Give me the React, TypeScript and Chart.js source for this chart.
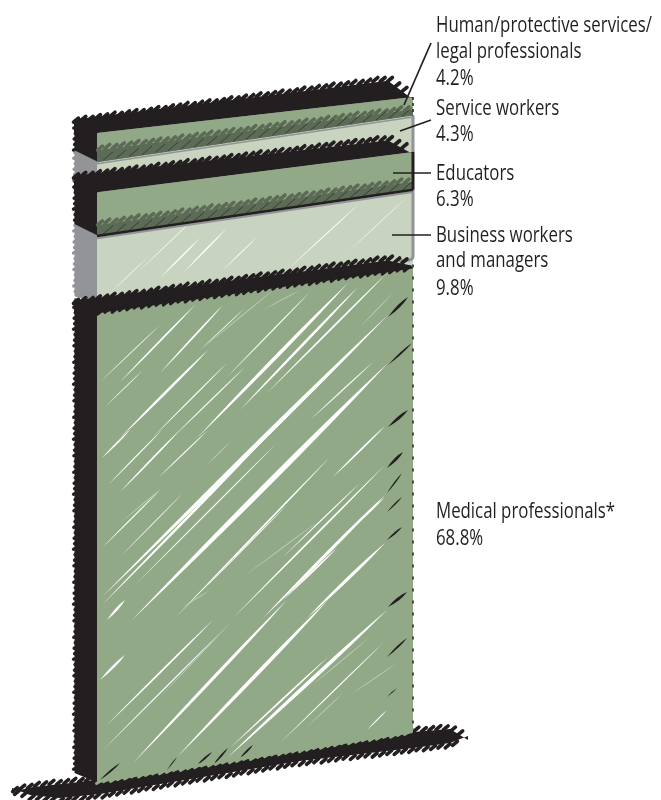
import { useEffect, useRef } from "react";
import { Chart, registerables } from "chart.js";

Chart.register(...registerables);

// Share of workers by occupation group, bottom of the column first.
const categories = [
  "Medical professionals*",
  "Business workers and managers",
  "Educators",
  "Service workers",
  "Human/protective services/legal professionals",
];
const shares = [68.8, 9.8, 6.3, 4.3, 4.2];
const labelLines = [
  ["Medical professionals*", "68.8%"],
  ["Business workers", "and managers", "9.8%"],
  ["Educators", "6.3%"],
  ["Service workers", "4.3%"],
  ["Human/protective services/", "legal professionals", "4.2%"],
];
const labelBaselines = [518, 242, 180, 115, 32];
const lineSteps = [
  [27],
  [25, 28],
  [26],
  [26],
  [26, 27],
];

const GREEN = "#92a987";
const PALE = "#c8d3c0";
const SHADE = "#5c6b55";
const GREY = "#929497";
const INK = "#231f20";

// Column perspective: how far the right edge rises at the foot and the head of the stack.
const RISE_BOTTOM = -50;
const RISE_TOP = -36;
const RIGHT_NUDGE = [0, 0, -8, -3, -10, 0];
const SIDE_DEPTH = 24;

// Pencil strokes, in a 316 x 650 box over the front of the column: x1, y1, x2, y2, width.
const MEDICAL_GAPS = [
  [100, 305, 251, 150, 3.6], [5, 464, 291, 182, 4.4], [35, 487, 291, 230, 5.4], [5, 325, 33, 297, 1.8],
  [11, 352, 65, 297, 1.2], [23, 359, 83, 297, 1.8], [61, 345, 111, 297, 1.2], [5, 415, 63, 357, 1.2],
  [23, 424, 86, 360, 0.8], [5, 472, 176, 297, 2.6], [38, 452, 180, 310, 1.2], [136, 485, 288, 332, 1.8],
  [166, 485, 288, 362, 3.2], [210, 485, 288, 410, 3.2], [250, 400, 288, 364, 1.8], [186, 467, 240, 415, 1.8],
  [103, 460, 190, 372, 1], [186, 424, 263, 350, 1.2], [78, 485, 233, 324, 1.8], [236, 344, 288, 293, 1.8],
  [3, 249, 63, 192, 0.8], [23, 249, 98, 172, 1.8], [63, 240, 126, 172, 1.8], [23, 305, 111, 217, 2.6],
  [55, 305, 130, 230, 1.2], [75, 305, 148, 234, 1.2], [103, 217, 148, 175, 0.8], [130, 244, 213, 159, 1.2],
  [143, 277, 261, 154, 2.6], [170, 260, 290, 140, 1.8], [213, 287, 276, 229, 1.2], [8, 274, 46, 237, 0.8],
  [3, 547, 28, 522, 2.6], [10, 592, 116, 487, 1.8], [6, 617, 123, 500, 1.2], [36, 630, 190, 467, 3.2],
  [80, 624, 231, 467, 3.8], [130, 625, 290, 477, 3.8], [133, 615, 231, 524, 1.8], [183, 610, 286, 510, 1.2],
  [270, 597, 290, 577, 1.2], [10, 487, 28, 467, 2.6],
];
const MEDICAL_FAINT = [
  [110, 332, 133, 309, 1], [23, 390, 66, 354, 1], [86, 474, 113, 457, 1], [146, 444, 223, 387, 1],
  [103, 217, 180, 154, 1], [166, 177, 203, 157, 1], [263, 194, 296, 160, 1], [63, 564, 136, 487, 1],
  [213, 554, 273, 504, 1], [210, 594, 246, 560, 1], [253, 562, 300, 530, 1],
];
const MEDICAL_DARKS = [
  [291, 184, 311, 164, 3], [291, 232, 315, 210, 2], [291, 294, 311, 277, 3], [290, 335, 306, 319, 3],
  [290, 360, 305, 340, 1.5], [290, 379, 305, 364, 1.5], [290, 407, 305, 394, 2], [291, 474, 310, 459, 3],
  [290, 524, 310, 505, 2], [290, 564, 300, 555, 1], [3, 647, 23, 630, 2], [100, 632, 115, 619, 2],
  [116, 632, 131, 615, 2], [143, 625, 156, 612, 2], [70, 637, 80, 624, 1],
];
const BUSINESS_GAPS = [
  [86, 140, 130, 95, 1.5], [13, 160, 50, 125, 0.7], [63, 145, 103, 105, 1.5], [126, 137, 160, 104, 1],
  [190, 137, 263, 70, 1], [40, 140, 103, 80, 0.7], [250, 120, 310, 64, 0.6],
];

// Ground line outline, as offsets from the chart area's lower-left corner.
const GROUND_UPPER = [[-85, 7], [-64, 2], [-17, -3], [316, -53], [353, -56], [371, -45]];
const GROUND_LOWER = [[-85, 7], [-67, 14], [-37, 17], [3, 13], [203, -20], [316, -33], [353, -38], [371, -45]];

// Leader lines, as offsets from the chart area's top-right corner: x1, y1, x2, y2.
const LEADERS = [
  [-9, -28, 18, -90],
  [-13, -2, 18, -13],
  [-20, 40, 18, 40],
  [-21, 102, 18, 102],
];
const LABEL_OFFSET = 23;
const LONGEST_LABEL = "Human/protective services/";
const LONGEST_LABEL_WIDTH = 216;

const wobble = [0.6, -0.7, 0.9, -0.3, 0.2, -1, 0.7, 0.1, -0.5, 1];

type Ctx = CanvasRenderingContext2D;

const follow = (pts: number[][], x: number) => {
  for (let i = 1; i < pts.length; i++) {
    if (x <= pts[i][0]) {
      const [x0, y0] = pts[i - 1];
      const [x1, y1] = pts[i];
      return y0 + ((y1 - y0) * (x - x0)) / (x1 - x0);
    }
  }
  return pts[pts.length - 1][1];
};

const sketchColumn = {
  id: "sketchColumn",
  beforeDatasetsDraw(chart: any) {
    const ctx: Ctx = chart.ctx;
    const { left, right, top, bottom } = chart.chartArea;
    const metas = chart.data.datasets.map((_: unknown, i: number) => chart.getDatasetMeta(i).data[0]);
    const levels: number[] = [metas[0].base, ...metas.map((m: any) => m.y)];

    const edge = (i: number, x: number) => {
      const u = (x - left) / (right - left);
      const py = levels[i];
      const t = (bottom - py) / (bottom - top);
      const bR = bottom + RISE_BOTTOM;
      const tR = top + RISE_TOP;
      return py + u * (bR + t * (tR - bR) + RIGHT_NUDGE[i] - py);
    };

    const poly = (pts: number[][], fill: string) => {
      ctx.beginPath();
      pts.forEach((p, i) => (i ? ctx.lineTo(p[0], p[1]) : ctx.moveTo(p[0], p[1])));
      ctx.closePath();
      ctx.fillStyle = fill;
      ctx.fill();
    };

    const front = (lo: number, hi: number) => [
      [left, edge(hi, left)],
      [right, edge(hi, right)],
      [right, edge(lo, right)],
      [left, edge(lo, left)],
    ];

    const lens = (s: number[], fill: string) => {
      const sx = (right - left) / 316;
      const sy = (bottom - top) / 650;
      const ax = left + s[0] * sx;
      const ay = top + s[1] * sy;
      const bx = left + s[2] * sx;
      const by = top + s[3] * sy;
      const len = Math.hypot(bx - ax, by - ay);
      const nx = ((by - ay) / len) * s[4];
      const ny = (-(bx - ax) / len) * s[4];
      const mx = ax + (bx - ax) * 0.6;
      const my = ay + (by - ay) * 0.6;
      ctx.beginPath();
      ctx.moveTo(ax, ay);
      ctx.quadraticCurveTo(mx + nx, my + ny, bx, by);
      ctx.quadraticCurveTo(mx - nx, my - ny, ax, ay);
      ctx.fillStyle = fill;
      ctx.fill();
    };

    const strokes = (lo: number, hi: number, sets: [number[][], string][]) => {
      ctx.save();
      ctx.beginPath();
      front(lo, hi).forEach((p, i) => (i ? ctx.lineTo(p[0], p[1]) : ctx.moveTo(p[0], p[1])));
      ctx.closePath();
      ctx.clip();
      sets.forEach(([list, colour]) => list.forEach((s) => lens(s, colour)));
      ctx.restore();
    };

    // Rough outline: short round strokes along a run of the edge function.
    const scallops = (
      from: number,
      to: number,
      yAt: (x: number) => number,
      colour: string,
      width: number,
      pitch = 7.3,
      lean = 2.4,
      rise = 4,
    ) => {
      ctx.save();
      ctx.strokeStyle = colour;
      ctx.lineWidth = width;
      ctx.lineCap = "round";
      let n = 0;
      for (let x = from; x <= to; x += pitch) {
        const y = yAt(x) + wobble[n++ % wobble.length] * 0.6;
        ctx.beginPath();
        ctx.moveTo(x - lean, y + rise / 2);
        ctx.lineTo(x + lean, y - rise / 2);
        ctx.stroke();
      }
      ctx.restore();
    };

    const sideFace = (lo: number, hi: number, colour: string, liftTop: number, liftFoot: number) => {
      const back = left - SIDE_DEPTH;
      const yb = edge(lo, left);
      const yt = edge(hi, left);
      poly(
        [
          [left + 1.5, yt],
          [back + 1.5, yt - liftTop],
          [back + 1.5, yb - liftFoot],
          [left + 1.5, yb],
        ],
        colour,
      );
      ctx.save();
      ctx.strokeStyle = colour;
      ctx.lineWidth = 3.4;
      ctx.lineCap = "round";
      let n = 0;
      for (let y = yt - liftTop + 2; y < yb - liftFoot - 1; y += 5.5) {
        ctx.beginPath();
        ctx.moveTo(back + 4, y);
        ctx.lineTo(back + 1.4 + wobble[n++ % wobble.length] * 0.9, y + 1.5);
        ctx.stroke();
      }
      ctx.restore();
    };

    // Dark top of a block: runs back from its upper edge and tapers at the right.
    const topBand = (i: number, upL: number, upR: number, downL: number, downR: number, roughFoot = false) => {
      const back = left - SIDE_DEPTH;
      const nearR = right - 25;
      const upper = (x: number) => edge(i, x) - (upL + ((upR - upL) * (x - left)) / (right - left));
      const upperRun = (x: number) =>
        x > nearR ? upper(nearR) + ((x - nearR) / 25) * (edge(i, right) - upper(nearR) - 1) : upper(x);
      const lower = (x: number) => edge(i, x) + downL + ((downR - downL) * (x - left)) / (right - left);
      poly(
        [
          [back + 1, upper(left) + 2.5],
          [nearR, upper(nearR) + 2.5],
          [right - 2, edge(i, right) + 1],
          [right, lower(right)],
          [left, lower(left)],
          [back + 1, lower(left)],
        ],
        INK,
      );
      scallops(back + 3, right - 3, upperRun, INK, 3.8);
      if (roughFoot) scallops(left + 3, right - 3, (x) => lower(x) - 1, INK, 3.2);
    };

    // Shadow strip along the foot of a green block.
    const shadeBand = (lo: number, hL: number, hR: number) => {
      const yTop = (x: number) => edge(lo, x) - (hL + ((hR - hL) * (x - left)) / (right - left));
      poly(
        [
          [left, yTop(left) + 2],
          [right, yTop(right) + 2],
          [right, edge(lo, right)],
          [left, edge(lo, left)],
        ],
        SHADE,
      );
      scallops(left + 3, right - 6, yTop, SHADE, 3.6);
      ctx.save();
      ctx.strokeStyle = INK;
      ctx.lineWidth = 0.6;
      for (let x = left + 6; x < right - 4; x += 13) {
        ctx.beginPath();
        ctx.moveTo(x, edge(lo, x) - 1);
        ctx.lineTo(x + 10, edge(lo, x + 10) - 8);
        ctx.stroke();
      }
      ctx.restore();
    };

    const alongEdge = (i: number, colour: string, width: number, shift: number) => {
      ctx.beginPath();
      ctx.moveTo(left, edge(i, left) + shift);
      ctx.lineTo(right, edge(i, right) + shift);
      ctx.strokeStyle = colour;
      ctx.lineWidth = width;
      ctx.stroke();
    };

    const rightEdge = (lo: number, hi: number, colour: string, width: number, dash: number[] = []) => {
      ctx.save();
      ctx.setLineDash(dash);
      ctx.beginPath();
      ctx.moveTo(right, edge(hi, right));
      ctx.lineTo(right, edge(lo, right));
      ctx.strokeStyle = colour;
      ctx.lineWidth = width;
      ctx.stroke();
      ctx.restore();
    };

    // Ground line under the column, tapering at both ends.
    const gUp = (x: number) => bottom + follow(GROUND_UPPER, x - left);
    const gLow = (x: number) => bottom + follow(GROUND_LOWER, x - left);
    poly(
      [
        ...GROUND_UPPER.map(([x, y]) => [left + x, bottom + y + 2]),
        ...GROUND_LOWER.slice().reverse().map(([x, y]) => [left + x, bottom + y - 2]),
      ],
      INK,
    );
    scallops(left - 82, left + 366, gUp, INK, 3.6);
    scallops(left - 80, left + 364, gLow, INK, 3.6);

    // Service workers
    sideFace(3, 4, GREY, 13, 12);
    poly(front(3, 4), PALE);
    rightEdge(3, 4, GREY, 3);

    // Business workers and managers
    sideFace(1, 2, GREY, 14, 8);
    poly(front(1, 2), PALE);
    strokes(1, 2, [[BUSINESS_GAPS, "#ffffff"]]);
    ctx.save();
    ctx.beginPath();
    ctx.moveTo(right, edge(2, right));
    ctx.lineTo(right, edge(1, right) - 8);
    ctx.quadraticCurveTo(right, edge(1, right) - 3, right - 14, edge(1, right) - 4);
    ctx.strokeStyle = GREY;
    ctx.lineWidth = 3;
    ctx.stroke();
    ctx.restore();

    // Medical professionals
    sideFace(0, 1, INK, 6, 10);
    poly(front(0, 1), GREEN);
    strokes(0, 1, [
      [MEDICAL_FAINT, "rgba(255,255,255,0.4)"],
      [MEDICAL_GAPS, "#ffffff"],
      [MEDICAL_DARKS, INK],
    ]);
    rightEdge(0, 1, INK, 1.5, [3, 9]);
    scallops(left + 2, right - 3, (x) => edge(0, x) - 1, GREEN, 3, 7, 2.5, 3);
    topBand(1, 6, 10, 9, 4, true);

    // Educators
    sideFace(2, 3, INK, 14, 12);
    poly(front(2, 3), GREEN);
    shadeBand(2, 13, 10);
    alongEdge(2, GREY, 2, 2.2);
    alongEdge(2, INK, 2.5, 0);
    rightEdge(2, 3, INK, 3);
    topBand(3, 19, 17, 0, 0);

    // Human/protective services/legal professionals
    sideFace(4, 5, INK, 14, 12);
    poly(front(4, 5), GREEN);
    shadeBand(4, 14, 8);
    alongEdge(4, GREY, 1.5, 1.5);
    rightEdge(4, 5, INK, 1.5, [3, 3]);
    topBand(5, 16, 22, 0, 0);

    return false;
  },
  afterDraw(chart: any) {
    const ctx: Ctx = chart.ctx;
    const { right, top } = chart.chartArea;

    ctx.save();
    ctx.strokeStyle = INK;
    ctx.lineWidth = 1.7;
    LEADERS.forEach(([x1, y1, x2, y2]) => {
      ctx.beginPath();
      ctx.moveTo(right + x1, top + y1);
      ctx.lineTo(right + x2, top + y2);
      ctx.stroke();
    });

    // The labels are set in a condensed width.
    ctx.fillStyle = INK;
    ctx.font = '21px "Open Sans", "Noto Sans", sans-serif';
    ctx.textBaseline = "alphabetic";
    ctx.textAlign = "left";
    const squeeze = LONGEST_LABEL_WIDTH / ctx.measureText(LONGEST_LABEL).width;
    labelLines.forEach((lines, i) => {
      let y = labelBaselines[i];
      lines.forEach((line, j) => {
        ctx.save();
        ctx.translate(right + LABEL_OFFSET, y);
        ctx.scale(squeeze, 1);
        ctx.fillText(line, 0, 0);
        ctx.restore();
        if (j < lines.length - 1) y += lineSteps[i][j];
      });
    });
    ctx.restore();
  },
};

export default function App() {
  const ref = useRef<HTMLCanvasElement | null>(null);

  useEffect(() => {
    const chart = new Chart(ref.current as HTMLCanvasElement, {
      type: "bar",
      data: {
        labels: ["Occupation"],
        datasets: categories.map((name, i) => ({
          label: name,
          data: [shares[i]],
          backgroundColor: [GREEN, PALE, GREEN, PALE, GREEN][i],
          categoryPercentage: 1,
          barPercentage: 1,
        })),
      },
      options: {
        responsive: false,
        animation: false,
        layout: { padding: { left: 97, right: 248, top: 133, bottom: 17 } },
        plugins: { legend: { display: false }, tooltip: { enabled: false } },
        scales: {
          x: { stacked: true, display: false },
          y: { stacked: true, display: false, min: 0, max: shares.reduce((a, b) => a + b, 0) },
        },
      },
      plugins: [sketchColumn],
    });
    return () => chart.destroy();
  }, []);

  return (
    <div style={{ position: "absolute", left: 0, top: 0, width: 661, height: 800, background: "#ffffff" }}>
      <canvas ref={ref} width={661} height={800} style={{ display: "block" }} />
    </div>
  );
}
